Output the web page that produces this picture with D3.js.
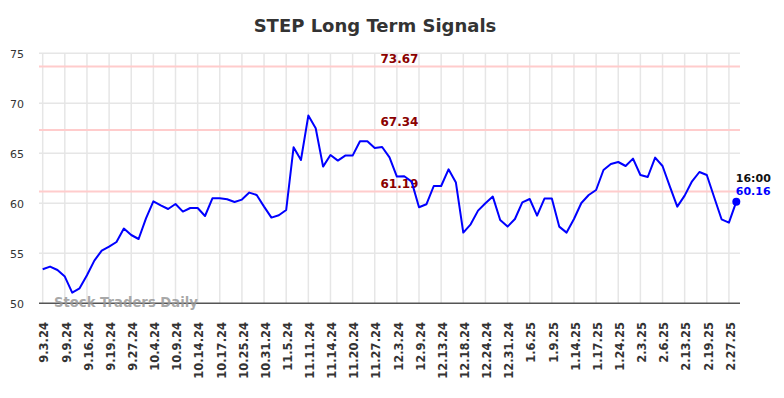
<!DOCTYPE html>
<html>
<head>
<meta charset="utf-8">
<script src="https://cdn.jsdelivr.net/npm/d3@7"></script>
<style>
  body { margin: 0; background: #fff; }
  svg { display: block; font-family: 'DejaVu Sans', sans-serif; }
</style>
</head>
<body>
<svg width="784" height="398"></svg>
<script>
const tickLabels = [
  '9.3.24', '9.9.24', '9.16.24', '9.19.24', '9.27.24', '10.4.24', '10.9.24', '10.14.24',
  '10.17.24', '10.25.24', '10.31.24', '11.5.24', '11.11.24', '11.14.24', '11.20.24', '11.27.24',
  '12.3.24', '12.9.24', '12.13.24', '12.18.24', '12.24.24', '12.31.24', '1.6.25', '1.9.25',
  '1.14.25', '1.17.25', '1.24.25', '2.3.25', '2.6.25', '2.13.25', '2.19.25', '2.27.25'
]

const values = [
  53.4, 53.67, 53.33, 52.67, 51.07, 51.5, 52.8, 54.27, 55.27, 55.67,
  56.13, 57.47, 56.83, 56.43, 58.5, 60.2, 59.8, 59.43, 59.93, 59.17,
  59.53, 59.53, 58.73, 60.5, 60.5, 60.4, 60.13, 60.37, 61.07, 60.83,
  59.67, 58.57, 58.8, 59.33, 65.6, 64.33, 68.77, 67.5, 63.67, 64.83,
  64.27, 64.77, 64.77, 66.2, 66.2, 65.53, 65.63, 64.6, 62.67, 62.7,
  62.17, 59.6, 59.9, 61.73, 61.73, 63.4, 62.07, 57.07, 57.9, 59.27,
  60.0, 60.67, 58.33, 57.67, 58.43, 60.1, 60.43, 58.77, 60.47, 60.47,
  57.67, 57.07, 58.43, 60.03, 60.83, 61.33, 63.33, 63.93, 64.13, 63.73,
  64.47, 62.83, 62.63, 64.57, 63.73, 61.67, 59.67, 60.77, 62.2, 63.13,
  62.83, 60.6, 58.4, 58.07, 60.16
]

// one tick label every 3 points
const tickEvery = 3
const categories = d3.range(values.length)
const signalLevels = [73.67, 67.34, 61.19]
const yTicks = [50, 55, 60, 65, 70, 75]
const lastTime = '16:00'

const plotLeft = 39, plotRight = 740, plotTop = 53.3, plotBottom = 303.3

const svg = d3.select('svg')

const x = d3.scalePoint()
  .domain(categories)
  .range([plotLeft, plotRight])
  .padding(0.5)

const y = d3.scaleLinear()
  .domain([50, 75])
  .range([plotBottom, plotTop])

// grid
const grid = svg.append('g')
  .attr('stroke', '#e6e6e6')
  .attr('stroke-width', 1.5)

grid.selectAll('.hgrid')
  .data(yTicks.slice(1))
  .join('line')
  .attr('x1', plotLeft).attr('x2', plotRight)
  .attr('y1', d => y(d)).attr('y2', d => y(d))

const tickIdx = categories.filter(i => i % tickEvery === 0)

grid.selectAll('.vgrid')
  .data(tickIdx)
  .join('line')
  .attr('x1', d => x(d)).attr('x2', d => x(d))
  .attr('y1', plotTop).attr('y2', plotBottom)

// y labels
svg.append('g')
  .selectAll('text')
  .data(yTicks)
  .join('text')
  .text(d => d)
  .attr('x', 24)
  .attr('y', d => y(d))
  .attr('dy', '0.4em')
  .attr('text-anchor', 'end')
  .attr('font-size', 11)
  .attr('fill', '#333')

// x labels
svg.append('g')
  .selectAll('text')
  .data(tickIdx)
  .join('text')
  .text(d => tickLabels[d / tickEvery])
  .attr('transform', d => 'translate(' + x(d) + ', 322) rotate(-90)')
  .attr('dy', '0.5em')
  .attr('text-anchor', 'end')
  .attr('font-size', 11.5)
  .attr('font-weight', 'bold')
  .attr('fill', '#333')

// signal levels
svg.append('g')
  .selectAll('line')
  .data(signalLevels)
  .join('line')
  .attr('x1', plotLeft).attr('x2', plotRight)
  .attr('y1', d => y(d)).attr('y2', d => y(d))
  .attr('stroke', '#ffcccc')
  .attr('stroke-width', 2)

svg.append('g')
  .selectAll('text')
  .data(signalLevels)
  .join('text')
  .text(d => d.toFixed(2))
  .attr('x', (plotLeft + plotRight) / 2 + 10)
  .attr('y', d => y(d) - 3.5)
  .attr('text-anchor', 'middle')
  .attr('font-size', 12)
  .attr('font-weight', 'bold')
  .attr('fill', '#8b0000')

// bottom axis line
svg.append('line')
  .attr('x1', plotLeft).attr('x2', plotRight)
  .attr('y1', plotBottom).attr('y2', plotBottom)
  .attr('stroke', '#555')
  .attr('stroke-width', 1.5)

// watermark
svg.append('text')
  .text('Stock Traders Daily')
  .attr('x', 54)
  .attr('y', 306.7)
  .attr('font-size', 13.2)
  .attr('font-weight', 'bold')
  .attr('fill', '#999')
  .attr('fill-opacity', 0.85)

// price line
const line = d3.line()
  .x((d, i) => x(i))
  .y(d => y(d))

svg.append('path')
  .datum(values)
  .attr('d', line)
  .attr('fill', 'none')
  .attr('stroke', '#0000ff')
  .attr('stroke-width', 2)
  .attr('stroke-linejoin', 'round')

const lastI = values.length - 1
const last = values[lastI]

svg.append('circle')
  .attr('cx', x(lastI))
  .attr('cy', y(last))
  .attr('r', 4)
  .attr('fill', '#0000ff')

svg.append('text')
  .text(lastTime)
  .attr('x', x(lastI) - 0.5)
  .attr('y', y(last) - 20)
  .attr('font-size', 11)
  .attr('font-weight', 'bold')
  .attr('fill', '#111')

svg.append('text')
  .text(last.toFixed(2))
  .attr('x', x(lastI) - 0.5)
  .attr('y', y(last) - 6.5)
  .attr('font-size', 11)
  .attr('font-weight', 'bold')
  .attr('fill', '#0000ff')

// title
svg.append('text')
  .text('STEP Long Term Signals')
  .attr('x', 375)
  .attr('y', 32.3)
  .attr('text-anchor', 'middle')
  .attr('font-size', 18)
  .attr('font-weight', 'bold')
  .attr('fill', '#333')
</script>
</body>
</html>
